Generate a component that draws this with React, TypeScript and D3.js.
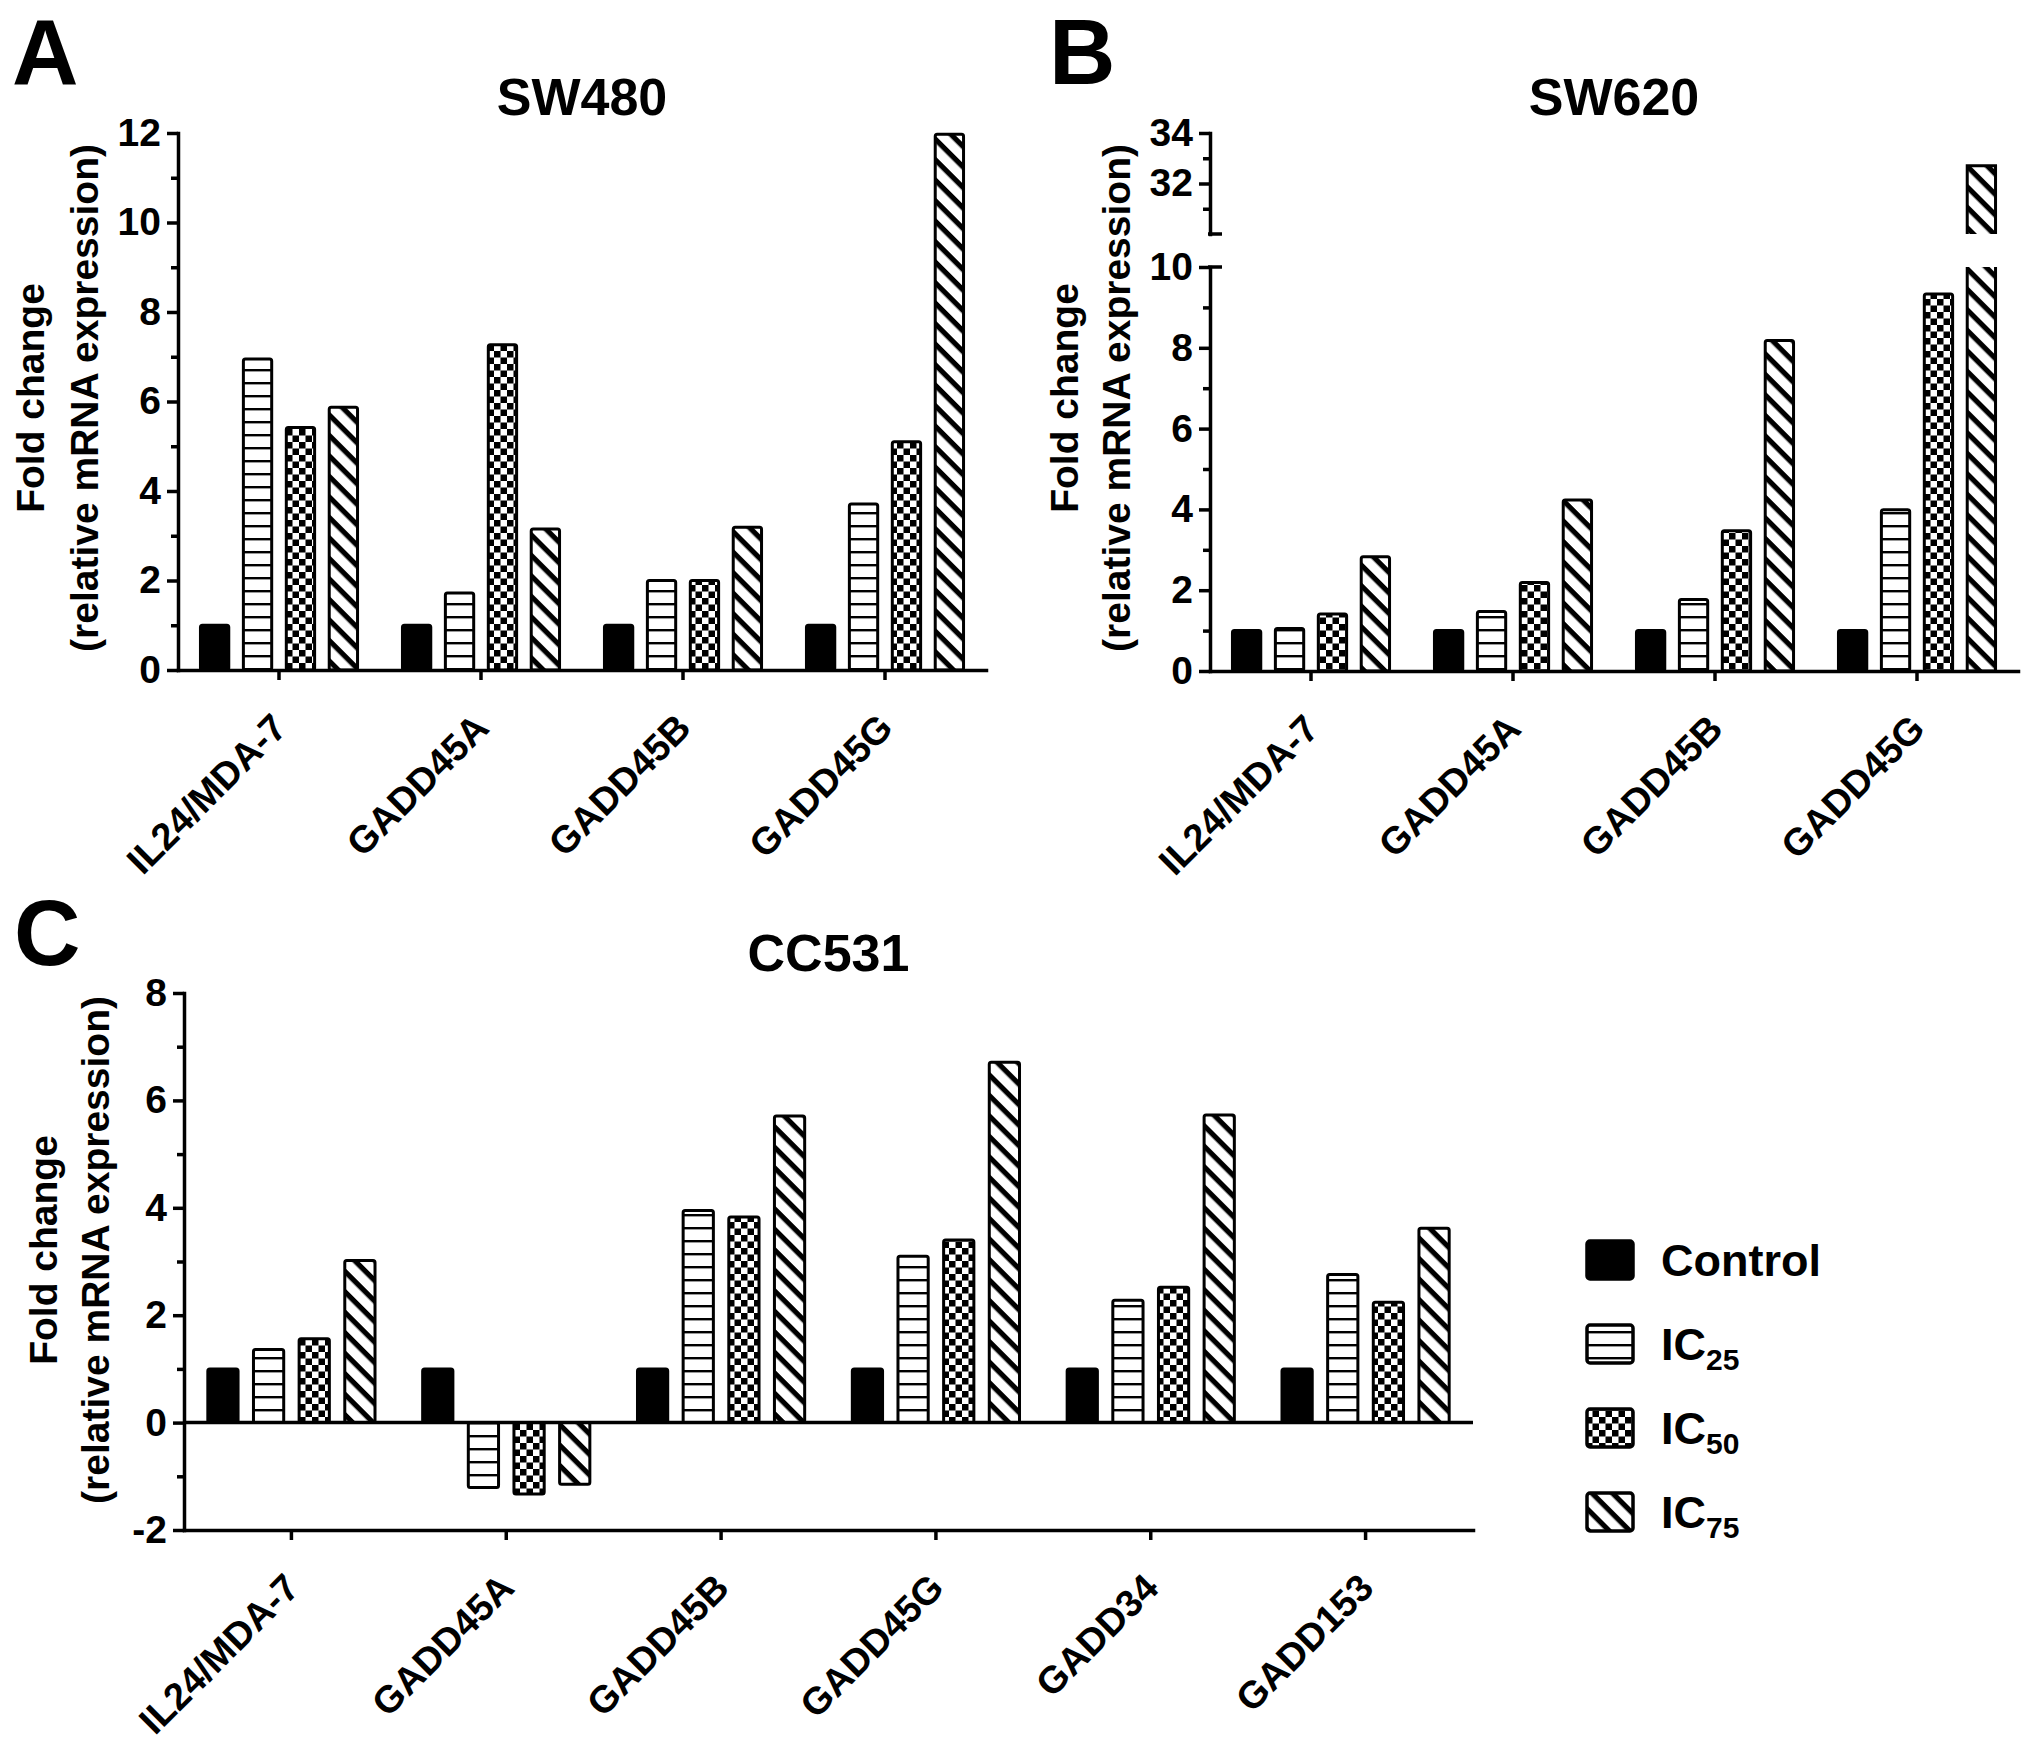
import { useEffect, useRef } from "react";
import * as d3 from "d3";

const W = 2031;
const H = 1746;
const FONT = "Arial, 'Liberation Sans', Helvetica, sans-serif";

// series / categories
const seriesKeys = ["Control", "IC25", "IC50", "IC75"];
const legendSubs = ["", "25", "50", "75"];
const genesAB = ["IL24/MDA-7", "GADD45A", "GADD45B", "GADD45G"];
const genesC = ["IL24/MDA-7", "GADD45A", "GADD45B", "GADD45G", "GADD34", "GADD153"];

// SW480
const sw480Control = [1, 1, 1, 1];
const sw480IC25 = [6.95, 1.72, 2.0, 3.71];
const sw480IC50 = [5.42, 7.27, 2.0, 5.1];
const sw480IC75 = [5.87, 3.15, 3.19, 11.97];

// SW620
const sw620Control = [1, 1, 1, 1];
const sw620IC25 = [1.05, 1.47, 1.77, 3.99];
const sw620IC50 = [1.41, 2.19, 3.47, 9.33];
const sw620IC75 = [2.83, 4.23, 8.18, 32.7];

// CC531
const cc531Control = [1, 1, 1, 1, 1, 1];
const cc531IC25 = [1.36, -1.21, 3.95, 3.1, 2.28, 2.76];
const cc531IC50 = [1.56, -1.33, 3.83, 3.4, 2.52, 2.24];
const cc531IC75 = [3.02, -1.15, 5.71, 6.71, 5.73, 3.62];

// ticks
const ticksA = [0, 2, 4, 6, 8, 10, 12];
const minorA = [1, 3, 5, 7, 9, 11];
const ticksBLow = [0, 2, 4, 6, 8, 10];
const minorBLow = [1, 3, 5, 7, 9];
const ticksBHigh = [32, 34];
const minorBHigh = [31, 33];
const ticksC = [-2, 0, 2, 4, 6, 8];
const minorC = [-1, 1, 3, 5, 7];

const fills = ["#000", "url(#pHL)", "url(#pCK)", "url(#pDG)"];

interface Segment {
  domain: [number, number];
  range: [number, number];
  majors: number[];
  minors: number[];
}

interface PanelCfg {
  letter: string;
  letterX: number;
  letterY: number;
  title: string;
  titleY: number;
  genes: string[];
  values: number[][];
  left: number;
  right: number;
  segments: Segment[];
  axisValue: number;
  titleCY: number;
  foldOff: number;
  relOff: number;
}

function drawPanel(svg: d3.Selection<SVGSVGElement, unknown, null, undefined>, p: PanelCfg) {
  const g = svg.append("g");
  const x0 = d3.scaleBand().domain(p.genes).range([p.left, p.right]).padding(0);
  const x1 = d3
    .scaleBand()
    .domain(seriesKeys)
    .range([0, x0.bandwidth()])
    .paddingInner(0.294)
    .paddingOuter(0.5);
  const seg0 = p.segments[0];
  const seg1 = p.segments[1];
  const y0 = d3.scaleLinear().domain(seg0.domain).range(seg0.range);
  const y1 = seg1 ? d3.scaleLinear().domain(seg1.domain).range(seg1.range) : null;
  const bw = x1.bandwidth();

  // bars
  p.genes.forEach((gene, gi) => {
    seriesKeys.forEach((key, si) => {
      const v = p.values[si][gi];
      const bx = (x0(gene) || 0) + (x1(key) || 0) + 1;
      const w = bw - 2;
      if (y1 && seg1 && v > seg0.domain[1]) {
        // broken bar: lower part open at top, upper part open at bottom
        const yb = y0(0);
        const yt = y0(seg0.domain[1]);
        g.append("rect").attr("x", bx).attr("y", yt).attr("width", w).attr("height", yb - yt).attr("fill", fills[si]);
        g.append("path")
          .attr("d", `M${bx},${yt}V${yb}H${bx + w}V${yt}`)
          .attr("fill", "none")
          .attr("stroke", "#000")
          .attr("stroke-width", 3);
        const ub = y1(seg1.domain[0]);
        const ut = y1(v);
        g.append("rect").attr("x", bx).attr("y", ut).attr("width", w).attr("height", ub - ut).attr("fill", fills[si]);
        g.append("path")
          .attr("d", `M${bx},${ub}V${ut}H${bx + w}V${ub}`)
          .attr("fill", "none")
          .attr("stroke", "#000")
          .attr("stroke-width", 3);
      } else {
        const ya = y0(v);
        const yz = y0(0);
        g.append("rect")
          .attr("x", bx)
          .attr("y", Math.min(ya, yz))
          .attr("width", w)
          .attr("height", Math.abs(yz - ya))
          .attr("rx", 2)
          .attr("fill", fills[si])
          .attr("stroke", "#000")
          .attr("stroke-width", 3);
      }
    });
  });

  // y axis segments
  p.segments.forEach((seg) => {
    const ys = d3.scaleLinear().domain(seg.domain).range(seg.range);
    const ax = g
      .append("g")
      .attr("transform", `translate(${p.left},0)`)
      .call(
        d3
          .axisLeft(ys)
          .tickValues(seg.majors)
          .tickSize(11)
          .tickSizeOuter(0)
          .tickPadding(6)
          .tickFormat((d) => String(d))
      )
      .attr("font-family", FONT)
      .attr("font-size", 39)
      .attr("font-weight", "bold");
    ax.select(".domain").attr("stroke-width", 3.5).attr("stroke-linecap", "square");
    ax.selectAll(".tick line").attr("stroke-width", 3.5);
    ax.selectAll("text").attr("fill", "#000");
    const mn = g
      .append("g")
      .attr("transform", `translate(${p.left},0)`)
      .call(d3.axisLeft(ys).tickValues(seg.minors).tickSize(7).tickSizeOuter(0).tickFormat(() => ""));
    mn.select(".domain").remove();
    mn.selectAll(".tick line").attr("stroke-width", 3.5);
  });

  // break caps
  if (seg1) {
    [seg1.range[0], seg0.range[1]].forEach((yy) => {
      g.append("line")
        .attr("x1", p.left - 2)
        .attr("x2", p.left + 12)
        .attr("y1", yy)
        .attr("y2", yy)
        .attr("stroke", "#000")
        .attr("stroke-width", 3.5);
    });
  }

  // zero line when the axis sits below zero
  const axisY = y0(p.axisValue);
  if (p.axisValue !== 0) {
    g.append("line")
      .attr("x1", p.left)
      .attr("x2", p.right)
      .attr("y1", y0(0))
      .attr("y2", y0(0))
      .attr("stroke", "#000")
      .attr("stroke-width", 3.5);
  }

  // x axis
  const xa = g
    .append("g")
    .attr("transform", `translate(0,${axisY})`)
    .call(d3.axisBottom(x0).tickSize(10).tickSizeOuter(0).tickFormat(() => ""));
  xa.select(".domain").attr("stroke-width", 3.5).attr("stroke-linecap", "square");
  xa.selectAll(".tick line").attr("stroke-width", 3.5);

  // rotated category labels
  g.selectAll(".xl")
    .data(p.genes)
    .enter()
    .append("text")
    .attr("class", "xl")
    .attr("transform", (d) => `translate(${(x0(d) || 0) + x0.bandwidth() / 2 + 10},${axisY + 60}) rotate(-45)`)
    .attr("text-anchor", "end")
    .attr("font-family", FONT)
    .attr("font-size", 38)
    .attr("font-weight", "bold")
    .text((d) => d);

  // title
  g.append("text")
    .attr("x", (p.left + p.right) / 2)
    .attr("y", p.titleY)
    .attr("text-anchor", "middle")
    .attr("font-family", FONT)
    .attr("font-size", 52)
    .attr("font-weight", "bold")
    .text(p.title);

  // y title
  g.append("text")
    .attr("transform", `translate(${p.left - p.foldOff},${p.titleCY}) rotate(-90)`)
    .attr("text-anchor", "middle")
    .attr("font-family", FONT)
    .attr("font-size", 39)
    .attr("font-weight", "bold")
    .text("Fold change");
  g.append("text")
    .attr("transform", `translate(${p.left - p.relOff},${p.titleCY}) rotate(-90)`)
    .attr("text-anchor", "middle")
    .attr("font-family", FONT)
    .attr("font-size", 39)
    .attr("font-weight", "bold")
    .text("(relative mRNA expression)");

  // panel letter
  g.append("text")
    .attr("x", p.letterX)
    .attr("y", p.letterY)
    .attr("font-family", FONT)
    .attr("font-size", 92)
    .attr("font-weight", "bold")
    .text(p.letter);
}

export default function App() {
  const svgRef = useRef<SVGSVGElement>(null);

  useEffect(() => {
    if (!svgRef.current) return;
    const svg = d3.select(svgRef.current);
    svg.selectAll("*").remove();

    svg.append("rect").attr("width", W).attr("height", H).attr("fill", "#fff");

    // Patterns
    const defs = svg.append("defs");
    const hl = defs.append("pattern").attr("id", "pHL").attr("patternUnits", "userSpaceOnUse").attr("width", 10).attr("height", 13);
    hl.append("rect").attr("width", 10).attr("height", 13).attr("fill", "#fff");
    hl.append("rect").attr("y", 5).attr("width", 10).attr("height", 2.4).attr("fill", "#000");

    const ck = defs.append("pattern").attr("id", "pCK").attr("patternUnits", "userSpaceOnUse").attr("width", 13).attr("height", 13);
    ck.append("rect").attr("width", 13).attr("height", 13).attr("fill", "#fff");
    ck.append("rect").attr("width", 6.5).attr("height", 6.5).attr("fill", "#000");
    ck.append("rect").attr("x", 6.5).attr("y", 6.5).attr("width", 6.5).attr("height", 6.5).attr("fill", "#000");

    const dg = defs
      .append("pattern")
      .attr("id", "pDG")
      .attr("patternUnits", "userSpaceOnUse")
      .attr("width", 14.5)
      .attr("height", 14.5)
      .attr("patternTransform", "rotate(45)");
    dg.append("rect").attr("width", 14.5).attr("height", 14.5).attr("fill", "#fff");
    dg.append("rect").attr("width", 14.5).attr("height", 5.2).attr("fill", "#000");

    drawPanel(svg, {
      letter: "A",
      letterX: 12,
      letterY: 84,
      title: "SW480",
      titleY: 115,
      genes: genesAB,
      values: [sw480Control, sw480IC25, sw480IC50, sw480IC75],
      left: 178,
      right: 986,
      segments: [{ domain: [0, 12], range: [670, 133], majors: ticksA, minors: minorA }],
      axisValue: 0,
      titleCY: 398,
      foldOff: 134,
      relOff: 80,
    });

    drawPanel(svg, {
      letter: "B",
      letterX: 1049,
      letterY: 84,
      title: "SW620",
      titleY: 115,
      genes: genesAB,
      values: [sw620Control, sw620IC25, sw620IC50, sw620IC75],
      left: 1210,
      right: 2018,
      segments: [
        { domain: [0, 10], range: [671, 267], majors: ticksBLow, minors: minorBLow },
        { domain: [30, 34], range: [234, 133], majors: ticksBHigh, minors: minorBHigh },
      ],
      axisValue: 0,
      titleCY: 398,
      foldOff: 132,
      relOff: 80,
    });

    drawPanel(svg, {
      letter: "C",
      letterX: 14,
      letterY: 965,
      title: "CC531",
      titleY: 971,
      genes: genesC,
      values: [cc531Control, cc531IC25, cc531IC50, cc531IC75],
      left: 184,
      right: 1473,
      segments: [{ domain: [-2, 8], range: [1530, 993], majors: ticksC, minors: minorC }],
      axisValue: -2,
      titleCY: 1250,
      foldOff: 127,
      relOff: 75,
    });

    // Legend
    const lg = svg.append("g");
    seriesKeys.forEach((key, i) => {
      const top = 1241 + i * 84;
      lg.append("rect")
        .attr("x", 1587)
        .attr("y", top)
        .attr("width", 46)
        .attr("height", 38)
        .attr("rx", 3)
        .attr("fill", fills[i])
        .attr("stroke", "#000")
        .attr("stroke-width", 3.5);
      const t = lg
        .append("text")
        .attr("x", 1661)
        .attr("y", top + 35)
        .attr("font-family", FONT)
        .attr("font-size", 45)
        .attr("font-weight", "bold");
      if (i === 0) {
        t.text(key);
      } else {
        t.append("tspan").text("IC");
        t.append("tspan").attr("dy", 10).attr("font-size", 30).text(legendSubs[i]);
      }
    });
  }, []);

  return (
    <div style={{ position: "absolute", left: 0, top: 0 }}>
      <svg ref={svgRef} width={W} height={H} style={{ display: "block" }} />
    </div>
  );
}
